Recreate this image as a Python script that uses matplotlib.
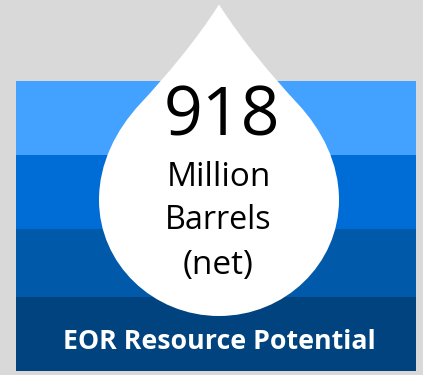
import matplotlib
matplotlib.use("Agg")
import matplotlib.pyplot as plt
from matplotlib.patches import PathPatch, Rectangle
from matplotlib.path import Path

# Stacked bands behind the droplet, top to bottom
band_edges = [81, 155, 229, 297, 371]
band_colors = ["#43A1FF", "#006DD6", "#0059A9", "#00437E"]

headline = "918"
unit_lines = ["Million", "Barrels", "(net)"]
unit_baselines = [186, 229, 274]
unit_sizes = [24, 23.2, 24]
caption = "EOR Resource Potential"

# Right half of the droplet outline as cubic Bezier segments, mirrored for the left half
axis_x = 219
tip = (219, 4.5)
right_segments = [
    ((243, 42), (272, 76), (298, 104)),
    ((322, 130), (339, 163), (339, 200)),
    ((339, 264), (285, 316), (219, 316)),
]

plt.rcParams["font.family"] = ["Open Sans", "DejaVu Sans"]

fig = plt.figure(figsize=(4.23, 3.75), dpi=100, facecolor="#D9D9D9")
ax = fig.add_axes([0, 0, 1, 1])
ax.set_xlim(0, 423)
ax.set_ylim(375, 0)
ax.axis("off")

for top, bottom, color in zip(band_edges[:-1], band_edges[1:], band_colors):
    ax.add_patch(Rectangle((16, top), 400, bottom - top, facecolor=color, edgecolor="none"))

# Build the closed droplet path: down the right side, back up the left
verts = [tip]
codes = [Path.MOVETO]
for seg in right_segments:
    verts.extend(seg)
    codes.extend([Path.CURVE4] * 3)
points = [tip] + [p for seg in right_segments for p in seg]
for p in reversed(points[:-1]):
    verts.append((2 * axis_x - p[0], p[1]))
    codes.append(Path.CURVE4)
ax.add_patch(PathPatch(Path(verts, codes), facecolor="white", edgecolor="none", zorder=3))

ax.text(222, 135, headline, fontsize=49, color="black", ha="center", va="baseline", zorder=4)
for line, base, size in zip(unit_lines, unit_baselines, unit_sizes):
    ax.text(218.5, base, line, fontsize=size, color="black", ha="center", va="baseline", zorder=4)
ax.text(219.5, 349, caption, fontsize=19.3, fontweight="bold", color="white",
        ha="center", va="baseline", zorder=4)

fig.savefig("out.png", dpi=100, facecolor=fig.get_facecolor())
